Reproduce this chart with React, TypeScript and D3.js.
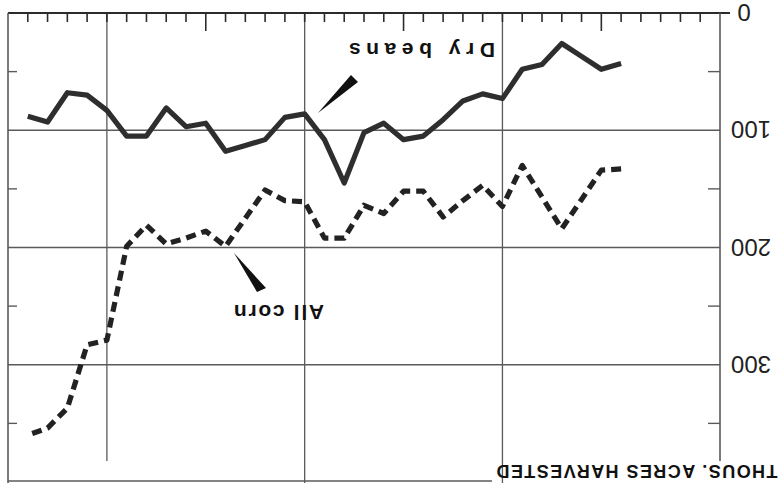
import React from "react";
import * as d3 from "d3";

// one value per year, 1934..1964 (thousand acres harvested)
const YEARS = [
  1934, 1935, 1936, 1937, 1938, 1939, 1940, 1941, 1942, 1943, 1944, 1945,
  1946, 1947, 1948, 1949, 1950, 1951, 1952, 1953, 1954, 1955, 1956, 1957,
  1958, 1959, 1960, 1961, 1962, 1963, 1964,
];
const DRY_BEANS = [
  43, 48, 37, 26, 44, 48, 73, 69, 75, 91, 105, 108, 94, 102, 145, 108, 86, 89,
  108, 113, 118, 94, 97, 81, 105, 105, 83, 70, 68, 93, 88,
];
const ALL_CORN = [
  133, 134, 159, 184, 157, 130, 165, 147, 160, 174, 152, 152, 171, 164, 192,
  192, 161, 160, 151, 175, 199, 186, 192, 197, 181, 199, 279, 283, 337, 354,
  360,
];
const Y_TICKS = [0, 100, 200, 300];
const Y_MINOR = [50, 150, 250, 350];
const GRID_YEARS = [1940, 1950, 1960];

const W = 782;
const H = 485;

const App = () => {
  // the whole figure is printed upside down
  const x = d3.scaleLinear().domain([1929, 1965]).range([720, 8]);
  const y = d3.scaleLinear().domain([0, 400]).range([13, 482]);

  const line = d3
    .line<number>()
    .x((_, i) => x(YEARS[i]))
    .y((d) => y(d));

  const yearTicks = x.ticks(36).filter((t) => t > 1929 && t < 1965);
  const ink = "#2b2b2b";
  const grid = "#5a5a5a";

  return (
    <svg
      width={W}
      height={H}
      style={{ position: "absolute", left: 0, top: 0, background: "#fff" }}
      fontFamily="'Liberation Sans', Arial, sans-serif"
    >
      <rect width={W} height={H} fill="#fff" />

      {/* horizontal grid */}
      {Y_TICKS.filter((t) => t > 0).map((t) => (
        <line key={t} x1={8} x2={720} y1={y(t)} y2={y(t)} stroke={grid} strokeWidth={1.3} />
      ))}
      {/* vertical grid */}
      {GRID_YEARS.map((yr) => (
        <line
          key={yr}
          x1={x(yr)}
          x2={x(yr)}
          y1={y(0)}
          y2={yr === 1960 ? 461 : 483}
          stroke={grid}
          strokeWidth={1.3}
        />
      ))}

      {/* frame and axis */}
      <line x1={8} x2={730} y1={y(0)} y2={y(0)} stroke={ink} strokeWidth={2.2} />
      <line x1={8} x2={8} y1={y(0)} y2={483} stroke={grid} strokeWidth={1.6} />
      <line x1={8} x2={492} y1={481} y2={481} stroke={grid} strokeWidth={1.4} />
      <line x1={720} x2={720} y1={y(0)} y2={461} stroke={grid} strokeWidth={1.6} />

      {/* year ticks */}
      {yearTicks.map((t) => (
        <line
          key={t}
          x1={x(t)}
          x2={x(t)}
          y1={y(0)}
          y2={t % 5 === 0 && t % 10 !== 0 ? 31 : 22}
          stroke={ink}
          strokeWidth={1.6}
        />
      ))}
      {/* minor value ticks */}
      {Y_MINOR.map((t) => (
        <g key={t}>
          <line x1={8} x2={17} y1={y(t)} y2={y(t)} stroke={grid} strokeWidth={1.4} />
          <line x1={708} x2={720} y1={y(t)} y2={y(t)} stroke={grid} strokeWidth={1.4} />
        </g>
      ))}

      {/* value labels */}
      {Y_TICKS.map((t) => (
        <text
          key={t}
          transform={`translate(${t === 0 ? 744 : 751},${y(t) - 9}) rotate(180)`}
          textAnchor="middle"
          fontSize={24}
          fill="#222"
        >
          {t}
        </text>
      ))}

      {/* series */}
      <path
        d={line(DRY_BEANS) ?? ""}
        fill="none"
        stroke="#2e2e2e"
        strokeWidth={5.2}
        strokeLinejoin="round"
      />
      <path
        d={line(ALL_CORN) ?? ""}
        fill="none"
        stroke="#222"
        strokeWidth={5.2}
        strokeDasharray="10,6"
        strokeLinejoin="round"
      />

      {/* pointers */}
      <polygon points="318,113 351,75 358,82" fill="#111" />
      <polygon points="234,253 257,292 266,288" fill="#111" />

      {/* labels */}
      <text
        transform="translate(422,43) rotate(180)"
        textAnchor="middle"
        fontSize={21}
        fontWeight="bold"
        textLength={146}
        lengthAdjust="spacing"
        fill="#111"
      >
        Dry beans
      </text>
      <text
        transform="translate(279,305) rotate(180)"
        textAnchor="middle"
        fontSize={21}
        fontWeight="bold"
        textLength={90}
        lengthAdjust="spacing"
        fill="#111"
      >
        All corn
      </text>
      <text
        transform="translate(637,465) rotate(180)"
        textAnchor="middle"
        fontSize={18}
        fontWeight="bold"
        textLength={281}
        lengthAdjust="spacing"
        fill="#111"
      >
        THOUS. ACRES HARVESTED
      </text>
    </svg>
  );
};

export default App;
